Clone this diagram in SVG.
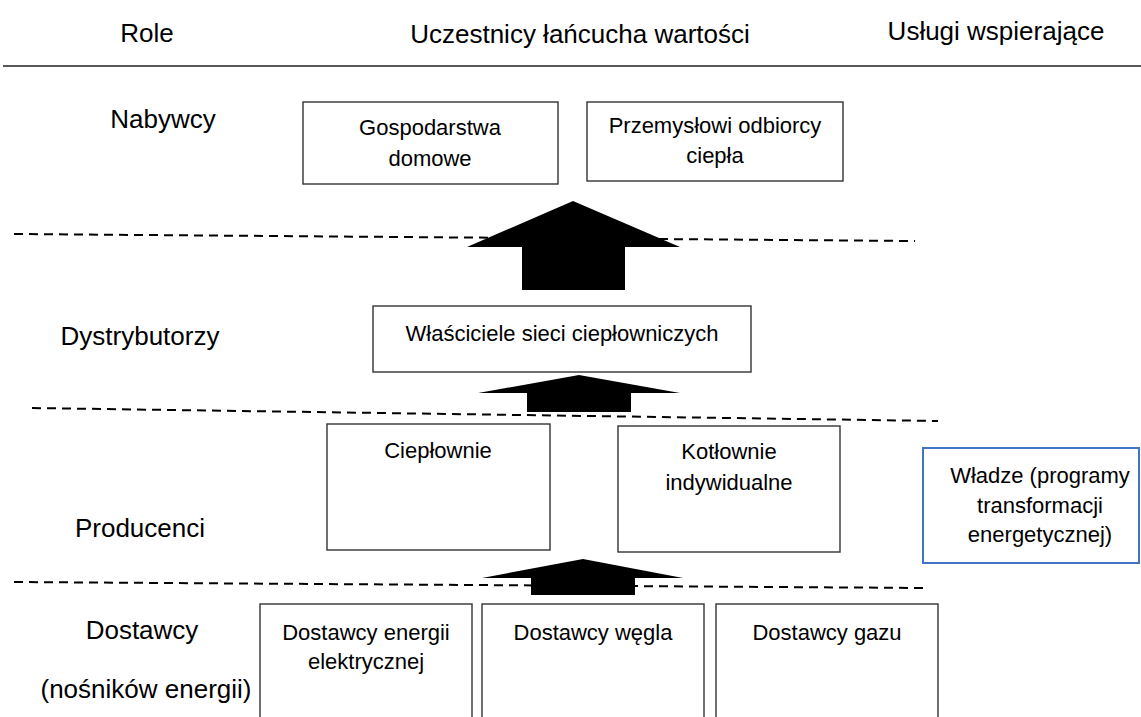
<svg xmlns="http://www.w3.org/2000/svg" width="1141" height="717" viewBox="0 0 1141 717">
<style>
text{font-family:"Liberation Sans",Arial,sans-serif;fill:#000;text-anchor:middle}
.h{font-size:26px}
.b{font-size:22px}
.box{fill:#fff;stroke:#333;stroke-width:1.4}
.blue{fill:#fff;stroke:#4472C4;stroke-width:2}
.dash{stroke:#000;stroke-width:2;stroke-dasharray:9 6;fill:none}
.arrow{fill:#000}
</style>
<rect width="1141" height="717" fill="#fff"/>
<g id="header">
<text class="h" x="147" y="42">Role</text>
<text class="h" x="580" y="43">Uczestnicy łańcucha wartości</text>
<text class="h" x="996" y="40">Usługi wspierające</text>
<line x1="3" y1="66" x2="1141" y2="66" stroke="#222" stroke-width="1.6"/>
</g>
<g id="roles">
<text class="h" x="163" y="128">Nabywcy</text>
<text class="h" x="140" y="345">Dystrybutorzy</text>
<text class="h" x="140" y="537">Producenci</text>
<text class="h" x="142" y="639">Dostawcy</text>
<text class="h" x="146" y="698">(nośników energii)</text>
</g>
<g id="dividers">
<line class="dash" x1="14" y1="234" x2="915" y2="241"/>
<line class="dash" x1="32" y1="408" x2="938" y2="421"/>
<line class="dash" x1="14" y1="582" x2="927" y2="588"/>
</g>
<g id="n-gospodarstwa">
<rect class="box" x="303" y="102" width="255" height="82"/>
<text class="b" x="430" y="135">Gospodarstwa</text>
<text class="b" x="430" y="166">domowe</text>
</g>
<g id="n-przemyslowi">
<rect class="box" x="587" y="102" width="256" height="79"/>
<text class="b" x="715" y="133">Przemysłowi odbiorcy</text>
<text class="b" x="715" y="163">ciepła</text>
</g>
<g id="n-wlasciciele">
<rect class="box" x="373" y="306" width="378" height="66"/>
<text class="b" x="562" y="341">Właściciele sieci ciepłowniczych</text>
</g>
<g id="n-cieplownie">
<rect class="box" x="327" y="424" width="223" height="126"/>
<text class="b" x="438" y="458">Ciepłownie</text>
</g>
<g id="n-kotlownie">
<rect class="box" x="618" y="426" width="222" height="126"/>
<text class="b" x="729" y="459">Kotłownie</text>
<text class="b" x="729" y="490">indywidualne</text>
</g>
<g id="n-wladze">
<rect class="blue" x="923" y="448" width="216" height="115"/>
<text class="b" x="1040" y="483">Władze (programy</text>
<text class="b" x="1040" y="513">transformacji</text>
<text class="b" x="1040" y="542">energetycznej)</text>
</g>
<g id="n-energia">
<rect class="box" x="260" y="604" width="212" height="130"/>
<text class="b" x="366" y="640">Dostawcy energii</text>
<text class="b" x="366" y="669">elektrycznej</text>
</g>
<g id="n-wegiel">
<rect class="box" x="482" y="604" width="222" height="130"/>
<text class="b" x="593" y="640">Dostawcy węgla</text>
</g>
<g id="n-gaz">
<rect class="box" x="716" y="604" width="222" height="130"/>
<text class="b" x="827" y="640">Dostawcy gazu</text>
</g>
<g id="connectors">
<polygon class="arrow" points="573,201 680,247 625,247 625,290 522,290 522,247 467,247"/>
<polygon class="arrow" points="579,375 680,393 631,393 631,412 527,412 527,393 478,393"/>
<polygon class="arrow" points="583,559 683,578 635,578 635,595 531,595 531,578 482,578"/>
</g>
</svg>
